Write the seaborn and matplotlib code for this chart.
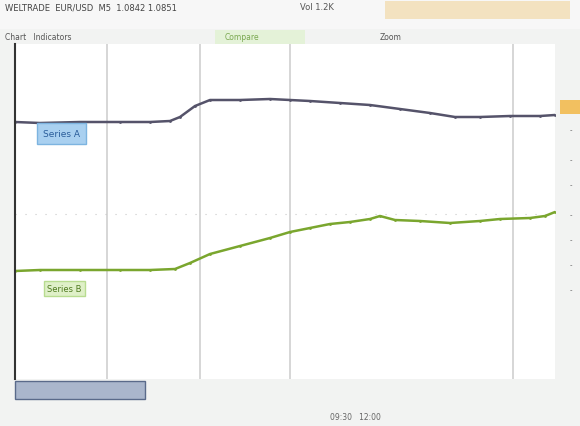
import matplotlib
matplotlib.use("Agg")
import matplotlib.pyplot as plt
from matplotlib.patches import Rectangle
import pandas as pd
import seaborn as sns

# time axis (minutes from open) and the two series
t_dark = [0, 25, 65, 105, 135, 155, 165, 180, 195, 225, 255, 275, 295, 325,
          355, 385, 415, 440, 465, 495, 525, 540]
v_dark = [257, 256, 257, 257, 257, 258, 262, 273, 279, 279, 280, 279, 278,
          276, 274, 270, 266, 262, 262, 263, 263, 264]
t_green = [0, 25, 65, 105, 135, 160, 175, 195, 225, 255, 275, 295, 315, 335,
           355, 365, 380, 405, 435, 465, 485, 515, 530, 540]
v_green = [108, 109, 109, 109, 109, 110, 116, 125, 133, 141, 147, 151, 155,
           157, 160, 163, 159, 158, 156, 158, 160, 161, 163, 167]
grid_x = [92, 185, 275, 498]
dark_label = "Series A"
green_label = "Series B"

df = pd.concat([
    pd.DataFrame({"t": t_dark, "v": v_dark, "s": dark_label}),
    pd.DataFrame({"t": t_green, "v": v_green, "s": green_label}),
])

sns.set_style("white")
fig = plt.figure(figsize=(5.8, 4.27), dpi=100)
fig.patch.set_facecolor("#f2f3f2")

W, H = 580, 427
def fx(p): return p / W
def fy(p): return 1 - p / H

# header chrome
fig.patches.append(Rectangle((0, fy(30)), 1, 30 / H, transform=fig.transFigure,
                             facecolor="#f7f7f7", edgecolor="none"))
fig.patches.append(Rectangle((fx(385), fy(20)), 185 / W, 18 / H, transform=fig.transFigure,
                             facecolor="#f3e2c0", edgecolor="none"))
fig.patches.append(Rectangle((fx(215), fy(45)), 90 / W, 14 / H, transform=fig.transFigure,
                             facecolor="#e4f2d8", edgecolor="none"))
fig.text(fx(5), fy(8), "WELTRADE  EUR/USD  M5  1.0842 1.0851", fontsize=6,
         color="#444444", va="center")
fig.text(fx(300), fy(8), "Vol 1.2K", fontsize=6, color="#555555", va="center")
fig.text(fx(5), fy(38), "Chart   Indicators", fontsize=5.5, color="#555555", va="center")
fig.text(fx(225), fy(38), "Compare", fontsize=5.5, color="#7aa850", va="center")
fig.text(fx(380), fy(38), "Zoom", fontsize=5.5, color="#555555", va="center")

ax = fig.add_axes([fx(15), fy(380), (555 - 15) / W, (380 - 45) / H])
ax.set_facecolor("white")
for x in grid_x:
    ax.axvline(x, color="#d0d0d0", lw=1.2, zorder=0)
ax.axhline(165, color="#c8c8c8", lw=0.8, ls=(0, (1, 8)), zorder=0)

sns.lineplot(data=df, x="t", y="v", hue="s", ax=ax, legend=False,
             palette={dark_label: "#55536a", green_label: "#7aa62e"},
             linewidth=1.8, marker="o", markersize=2, markeredgewidth=0)

ax.set_xlim(0, 540)
ax.set_ylim(0, 335)
ax.set_xticks([])
ax.set_yticks([])
ax.set_xlabel("")
ax.set_ylabel("")
for s in ["top", "right", "bottom"]:
    ax.spines[s].set_visible(False)
ax.spines["left"].set_color("#333333")
ax.spines["left"].set_linewidth(1.5)

ax.text(28, 250, dark_label, fontsize=6.5, color="#2a5d9a", va="top",
        bbox=dict(boxstyle="square,pad=0.7", facecolor="#a9d0f0", edgecolor="#7db4e0"))
ax.text(32, 95, green_label, fontsize=6, color="#4f7a20", va="top",
        bbox=dict(boxstyle="square,pad=0.4", facecolor="#dff0c8", edgecolor="#b8dc90"))

# right side column
fig.patches.append(Rectangle((fx(560), fy(115)), 20 / W, 14 / H, transform=fig.transFigure,
                             facecolor="#f2c060", edgecolor="none"))
for yy in [130, 160, 185, 215, 240, 265, 290]:
    fig.text(fx(570), fy(yy), "-", fontsize=5, color="#555555", va="center")

# bottom navigator
fig.patches.append(Rectangle((fx(15), fy(400)), 130 / W, 18 / H, transform=fig.transFigure,
                             facecolor="#aab6cc", edgecolor="#5a6a8a"))
fig.text(fx(330), fy(418), "09:30   12:00", fontsize=5.5, color="#666666", va="center")

fig.savefig("out.png", dpi=100)
